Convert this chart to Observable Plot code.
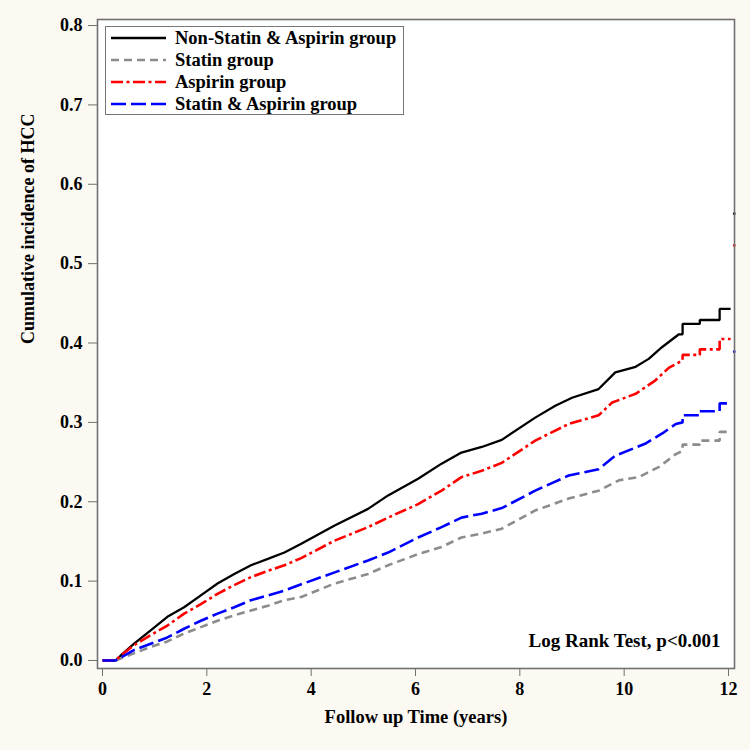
<!DOCTYPE html>
<html><head><meta charset="utf-8">
<script src="https://cdn.jsdelivr.net/npm/d3@7"></script>
<script src="https://cdn.jsdelivr.net/npm/@observablehq/plot@0.6"></script>
<style>
html,body{margin:0;padding:0;background:#fcf9f2;}
#wrap{position:relative;width:750px;height:750px;font-family:"Liberation Serif","Times New Roman",serif;}
#legend{position:absolute;left:105px;top:26px;width:297px;height:87px;background:#fff;border:1.5px solid #777;box-sizing:content-box;}
.lrow{position:absolute;left:0;height:22px;display:flex;align-items:center;}
.lrow svg{margin-left:5px;margin-right:9px;}
.lrow span{font-weight:bold;font-size:18.5px;color:#000;white-space:nowrap;line-height:22px;}
</style>
</head><body>
<div id="wrap"><div id="chart"></div><div id="legend"></div></div>
<script>
// ---- data ----
const groups = ["Non-Statin & Aspirin group", "Statin group", "Aspirin group", "Statin & Aspirin group"];
const colors = ["#000000", "#8c8c8c", "#ff0000", "#0000ff"];
const dashes = ["none", "8,5", "12,3.5,3,3.5", "15,5"];

const tNonStatin = [0, 0.25, 0.346, 0.60, 0.923, 1.244, 1.564, 1.885, 2.205, 2.526, 2.846, 3.17, 3.487, 3.81, 4.45, 5.09, 5.475, 6.05, 6.5, 6.88, 7.27, 7.654, 8.295, 8.68, 9.0, 9.51, 9.83, 10.22, 10.47, 10.73, 11.05, 11.12, 11.12, 11.45, 11.45, 11.83, 11.83, 12.04];
const vNonStatin = [0, 0, 0.006, 0.021, 0.038, 0.055, 0.067, 0.082, 0.097, 0.109, 0.120, 0.128, 0.136, 0.147, 0.170, 0.191, 0.208, 0.229, 0.248, 0.262, 0.269, 0.278, 0.306, 0.321, 0.331, 0.342, 0.363, 0.370, 0.380, 0.395, 0.411, 0.411, 0.424, 0.424, 0.429, 0.429, 0.443, 0.443];

const tStatin = [0, 0.25, 0.60, 0.923, 1.244, 1.564, 1.885, 2.205, 2.526, 2.846, 3.17, 3.487, 3.81, 4.45, 5.09, 5.475, 6.05, 6.5, 6.88, 7.27, 7.654, 8.295, 8.936, 9.51, 9.9, 10.28, 10.67, 10.99, 11.12, 11.12, 11.45, 11.45, 11.83, 11.83, 12.04];
const vStatin = [0, 0, 0.009, 0.017, 0.024, 0.034, 0.042, 0.050, 0.057, 0.063, 0.069, 0.076, 0.080, 0.097, 0.109, 0.120, 0.134, 0.143, 0.155, 0.160, 0.166, 0.189, 0.204, 0.214, 0.227, 0.231, 0.244, 0.260, 0.264, 0.272, 0.272, 0.277, 0.277, 0.288, 0.288];

const tAspirin = [0, 0.25, 0.346, 0.60, 0.923, 1.244, 1.564, 1.885, 2.205, 2.526, 2.846, 3.17, 3.487, 3.81, 4.45, 5.09, 5.475, 6.05, 6.5, 6.88, 7.27, 7.654, 8.295, 8.936, 9.51, 9.77, 10.22, 10.6, 10.86, 11.12, 11.12, 11.45, 11.45, 11.83, 11.83, 12.04];
const vAspirin = [0, 0, 0.006, 0.019, 0.032, 0.044, 0.059, 0.071, 0.084, 0.095, 0.105, 0.113, 0.120, 0.129, 0.151, 0.168, 0.180, 0.197, 0.214, 0.231, 0.239, 0.249, 0.277, 0.298, 0.309, 0.325, 0.336, 0.353, 0.369, 0.378, 0.385, 0.385, 0.392, 0.392, 0.405, 0.405];

const tBoth = [0, 0.25, 0.60, 0.923, 1.244, 1.564, 1.885, 2.205, 2.526, 2.846, 3.17, 3.487, 3.81, 4.45, 5.09, 5.475, 6.05, 6.5, 6.88, 7.27, 7.654, 8.295, 8.936, 9.51, 9.83, 10.4, 10.73, 10.99, 11.12, 11.12, 11.45, 11.45, 11.83, 11.83, 12.04];
const vBoth = [0, 0, 0.013, 0.021, 0.029, 0.040, 0.050, 0.059, 0.067, 0.076, 0.082, 0.088, 0.096, 0.111, 0.126, 0.136, 0.155, 0.168, 0.180, 0.185, 0.192, 0.214, 0.233, 0.241, 0.258, 0.273, 0.286, 0.298, 0.300, 0.309, 0.309, 0.314, 0.314, 0.324, 0.324];

// last-event values at the end of follow-up (only a sliver visible at the frame)
const tailGroups = ["Non-Statin & Aspirin group", "Aspirin group", "Statin & Aspirin group"];
const tailTime = [12.11, 12.11, 12.11];
const tailValue = [0.563, 0.523, 0.389];

const xTicks = [0, 2, 4, 6, 8, 10, 12];
const yTicks = [0, 0.1, 0.2, 0.3, 0.4, 0.5, 0.6, 0.7, 0.8];
const xTitle = "Follow up Time (years)";
const yTitle = "Cumulative incidence of HCC";
const note = "Log Rank Test, p<0.001";

// ---- build table ----
const seriesT = [tNonStatin, tStatin, tAspirin, tBoth];
const seriesV = [vNonStatin, vStatin, vAspirin, vBoth];
const rows = [];
groups.forEach((g, i) => seriesT[i].forEach((t, j) => rows.push({group: g, t, v: seriesV[i][j]})));
const tail = tailGroups.map((g, i) => ({group: g, t: tailTime[i], v: tailValue[i]}));

const colorOf = Object.fromEntries(groups.map((g, i) => [g, colors[i]]));
const frameColor = "#707070";

const lineMarks = groups.map((g, i) => Plot.line(rows.filter(d => d.group === g), {
  x: "t", y: "v", stroke: colors[i], strokeWidth: i === 0 ? 2.3 : 2.6,
  strokeDasharray: dashes[i] === "none" ? undefined : dashes[i],
  strokeLinejoin: "miter", strokeLinecap: "butt", curve: "linear"
}));

const chart = Plot.plot({
  width: 750, height: 750,
  marginLeft: 97, marginRight: 16, marginTop: 19, marginBottom: 82,
  style: {background: "#fcf9f2", fontFamily: "Liberation Serif, Times New Roman, serif", fontWeight: "bold", fontSize: "18px", color: "#000"},
  x: {domain: [-0.096, 12.115], ticks: xTicks, tickFormat: d => String(d), tickSize: 8, tickPadding: 6, label: null},
  y: {domain: [-0.0101, 0.8076], ticks: yTicks, tickFormat: d => d.toFixed(1), tickSize: 9, tickPadding: 6, label: null},
  marks: [
    Plot.frame({fill: "white", stroke: "none"}),
    ...lineMarks,
    Plot.dot(tail, {x: "t", y: "v", fill: d => colorOf[d.group], r: 1.4}),
    Plot.frame({stroke: frameColor, strokeWidth: 1.6}),
    Plot.text([note], {text: d => d, frameAnchor: "bottom-right", dx: -14, dy: -22, textAnchor: "end", fontSize: 19, fontWeight: "bold", fill: "#000"}),
    Plot.text([xTitle], {text: d => d, frameAnchor: "bottom", dy: 54, fontSize: 18.5, fontWeight: "bold", fill: "#000"}),
    Plot.text([yTitle], {text: d => d, frameAnchor: "left", dx: -69, rotate: -90, fontSize: 18, fontWeight: "bold", fill: "#000"})
  ]
});
document.getElementById("chart").appendChild(chart);

// axis tick color to match the frame
chart.querySelectorAll('g[aria-label$="axis"] path, g[aria-label$="axis tick"] path, g.tick line, path.domain').forEach(p => {
  if (p.classList && p.classList.contains("domain")) p.setAttribute("stroke", "none");
  else p.setAttribute("stroke", frameColor);
});

// ---- legend ----
const legend = document.getElementById("legend");
groups.forEach((g, i) => {
  const row = document.createElement("div");
  row.className = "lrow";
  row.style.top = (i * 22) + "px";
  const dash = dashes[i] === "none" ? "" : `stroke-dasharray="${dashes[i]}"`;
  row.innerHTML = `<svg width="55" height="6"><line x1="0" y1="3" x2="55" y2="3" stroke="${colors[i]}" stroke-width="${i === 0 ? 2.3 : 2.6}" ${dash}/></svg><span>${g.replace(/&/g, "&amp;")}</span>`;
  legend.appendChild(row);
});
</script>
</body></html>
